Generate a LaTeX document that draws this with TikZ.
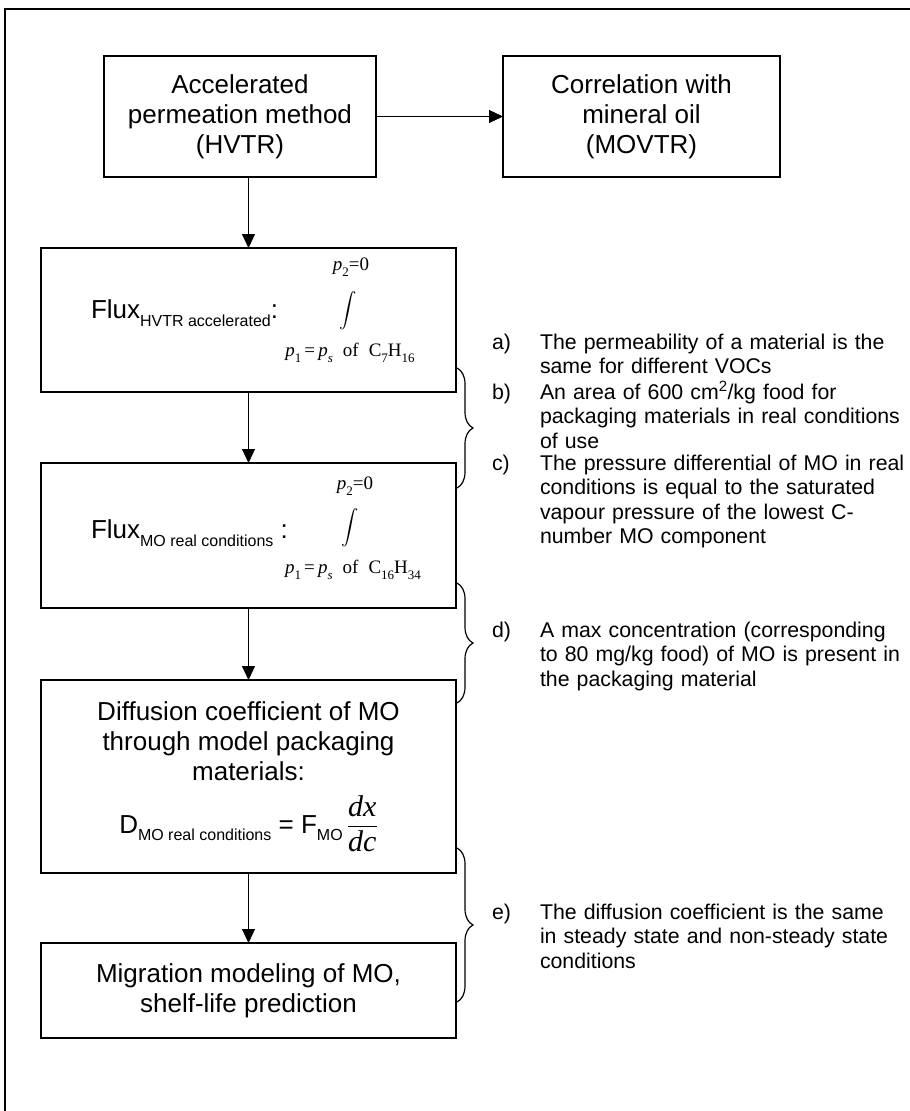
\documentclass[tikz,border=0pt]{standalone}
\usepackage{exscale}
\usepackage{fontspec}
\setmainfont{Liberation Sans}
\newfontfamily\timesf{Liberation Serif}
\usetikzlibrary{
    arrows.meta,
    decorations.pathreplacing,
    positioning
}
\newcommand{\ssub}[1]{\raisebox{-0.3em}{\fontsize{16}{16}\selectfont #1}}
\newcommand{\tsub}[1]{\raisebox{-0.3em}{\fontsize{13}{13}\selectfont\timesf #1}}
\newcommand{\tit}[1]{{\timesf\itshape #1}}
\tikzset{
    every picture/.style = {
        > = {Triangle[length=14pt, width=13pt]},
        line width = 1.2pt
    },
    box/.style = {
        draw,
        align = center,
        inner sep = 0pt,
        outer sep = 0pt,
        font = \fontsize{26}{30}\selectfont
    },
    wide/.style = {box, minimum width = 415pt},
    note/.style = {
        inner sep = 0pt,
        outer sep = 0pt,
        anchor = base west,
        font = \fontsize{21.3}{24.5}\selectfont
    },
    notetext/.style = {note, text width = 370pt, align = left},
    lim/.style = {inner sep = 0pt, font = \fontsize{19}{19}\selectfont\timesf},
    bigint/.style = {inner sep = 0pt, font = \fontsize{18}{18}\selectfont},
    hook/.style = {decorate, decoration = {brace, amplitude = 16pt}}
}

\begin{document}
\begin{tikzpicture}[x = 1pt, y = -1pt]
    \useasboundingbox (0,0) rectangle (910,1111);
    \draw[line width = 1.5pt] (5,1111) -- (5,9) -- (910,9);

    \node[box, minimum width = 272pt, minimum height = 121pt] (perm) at (240,116.5) {Accelerated\\permeation method\\(HVTR)};
    \node[box, minimum width = 277pt, minimum height = 121pt] [right = 127pt of perm] (corr) {Correlation with\\mineral oil\\(MOVTR)};
    \node[wide, minimum height = 144pt] (fluxa) at (248.5,320) {};
    \node[wide, minimum height = 145pt] [below = 71pt of fluxa] (fluxb) {};
    \node[wide, minimum height = 193pt] [below = 72pt of fluxb] (diff) {Diffusion coefficient of MO\\through model packaging\\materials:\\[14pt]
        D\ssub{MO real conditions} = F\ssub{MO}\,$\displaystyle\frac{\hbox{\fontsize{30}{30}\timesf\itshape dx}}{\hbox{\fontsize{30}{30}\timesf\itshape dc}}$};
    \node[wide, minimum height = 95pt] [below = 70pt of diff] (migr) {Migration modeling of MO,\\shelf-life prediction};

    % flux formulas
    \node[box, draw = none, anchor = west] (fluxlaba) at (91,313) {Flux\ssub{HVTR accelerated}:};
    \node[lim] (upa) at (351,267) {\tit{p}\tsub{2}=0};
    \node[bigint] (inta) at (348,311) {$\displaystyle\int$};
    \node[lim] (lowa) at (350,353) {\tit{p}\tsub{1}\,=\,\tit{p}\tsub{\itshape s}\;\ of\;\ C\tsub{7}H\tsub{16}};

    \node[box, draw = none, anchor = west] (fluxlabb) at (91,533) {Flux\ssub{MO real conditions} :};
    \node[lim] (upb) at (355,486) {\tit{p}\tsub{2}=0};
    \node[bigint] (intb) at (350,528) {$\displaystyle\int$};
    \node[lim] (lowb) at (353,570) {\tit{p}\tsub{1}\,=\,\tit{p}\tsub{\itshape s}\;\ of\;\ C\tsub{16}H\tsub{34}};

    \path[->] (perm) edge (corr);
    \path[->] (perm.south -| fluxa) edge (fluxa);
    \path[->] (fluxa) edge (fluxb);
    \path[->] (fluxb) edge (diff);
    \path[->] (diff) edge (migr);

    % assumptions
    \node[note] (la) at (492,349) {a)};
    \node[notetext] (ta) at (540,349) {The permeability of a material is the\\same for different VOCs};
    \node[note] (lb) at (492,399) {b)};
    \node[notetext] (tb) at (540,399) {An area of 600 cm\textsuperscript{2}/kg food for\\packaging materials in real conditions\\of use};
    \node[note] (lc) at (492,470) {c)};
    \node[notetext] (tc) at (540,470) {The pressure differential of MO in real\\conditions is equal to the saturated\\vapour pressure of the lowest C-\\number MO component};
    \node[note] (ld) at (492,637) {d)};
    \node[notetext] (td) at (540,637) {A max concentration (corresponding\\to 80 mg/kg food) of MO is present in\\the packaging material};
    \node[note] (le) at (492,919) {e)};
    \node[notetext] (te) at (540,919) {The diffusion coefficient is the same\\in steady state and non-steady state\\conditions};

    \coordinate (b1s) at (457,368);
    \coordinate (b1e) at (457,488);
    \coordinate (b2s) at (457,583);
    \coordinate (b2e) at (457,703);
    \coordinate (b3s) at (457,848);
    \coordinate (b3e) at (457,1002);
    \draw[hook] (b1s) -- (b1e);
    \draw[hook] (b2s) -- (b2e);
    \draw[hook] (b3s) -- (b3e);
\end{tikzpicture}
\end{document}
